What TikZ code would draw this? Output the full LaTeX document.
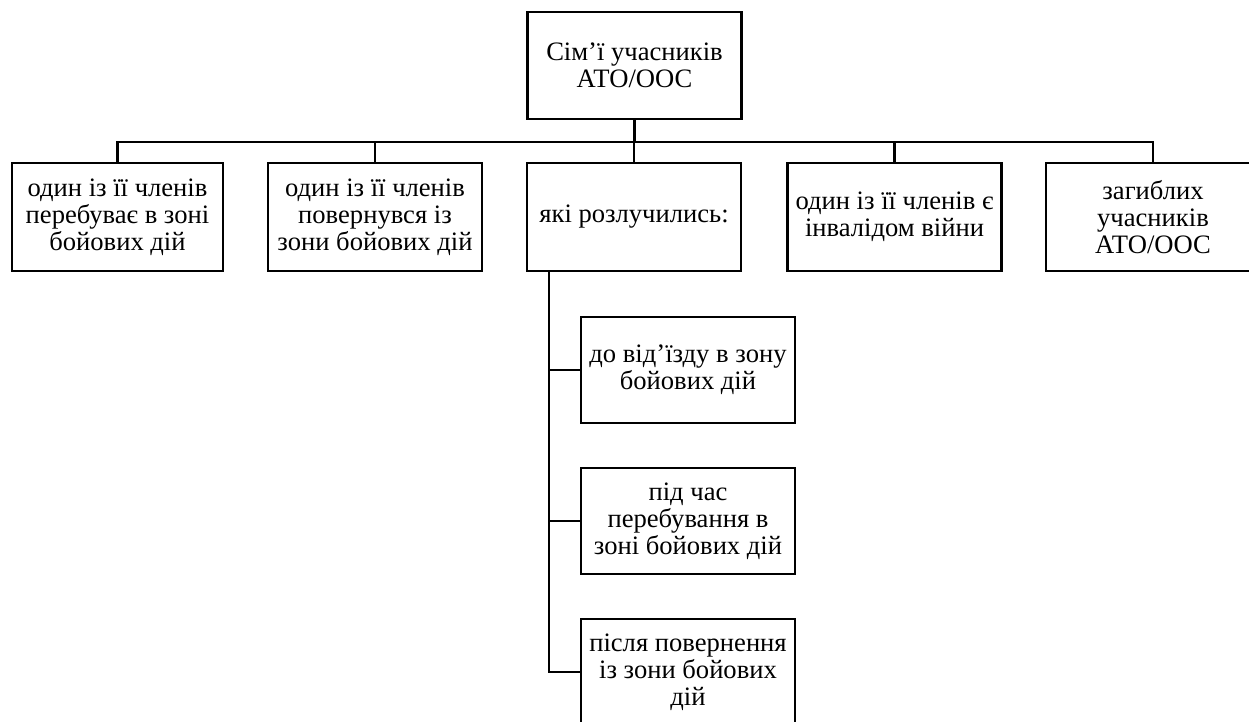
\documentclass[tikz,border=0pt]{standalone}
\usepackage{fontspec}
\setmainfont{Liberation Serif}
\begin{document}
\begin{tikzpicture}[x=0.5pt,y=-0.5pt,
  line width=1.4pt, line join=miter,
  box/.style={draw, line width=1.4pt, align=center, inner sep=0pt,
    minimum width=107pt, minimum height=53.5pt,
    font=\fontsize{13.3}{13.4}\selectfont}]
\useasboundingbox (0,0) rectangle (1249,722);
\clip (0,0) rectangle (1249,722);
\node[box] (top) at (634.5,65.5) {Сім’ї учасників\\АТО/ООС};
\node[box, minimum width=105.5pt, minimum height=54pt] (b1) at (117.5,217) {один із її членів\\перебуває в зоні\\бойових дій};
\node[box, minimum height=54pt] (b2) at (375,217) {один із її членів\\повернувся із\\зони бойових дій};
\node[box, minimum height=54pt] (b3) at (634,217) {які розлучились:};
\node[box, minimum height=54pt] (b4) at (894.5,217) {один із її членів є\\інвалідом війни};
\node[box, minimum height=54pt] (b5) at (1153,217) {загиблих\\учасників\\АТО/ООС};
\node[box, minimum height=53pt] (s1) at (688,370) {до від’їзду в зону\\бойових дій};
\node[box, minimum height=53pt] (s2) at (688,521) {під час\\перебування в\\зоні бойових дій};
\node[box, minimum height=53pt] (s3) at (688,672) {після повернення\\із зони бойових\\дій};
\coordinate (bus) at (634,142);
\coordinate (trunk) at (549,300);
\draw (top.south) -- (top.south |- bus);
\draw (b1.north) -- (b1.north |- bus) -- (b5.north |- bus) -- (b5.north);
\draw (b2.north) -- (b2.north |- bus);
\draw (b3.north) -- (b3.north |- bus);
\draw (b4.north) -- (b4.north |- bus);
\draw (b3.south -| trunk) -- (s3.west -| trunk) -- (s3.west);
\draw (s1.west -| trunk) -- (s1.west);
\draw (s2.west -| trunk) -- (s2.west);
\end{tikzpicture}
\end{document}
